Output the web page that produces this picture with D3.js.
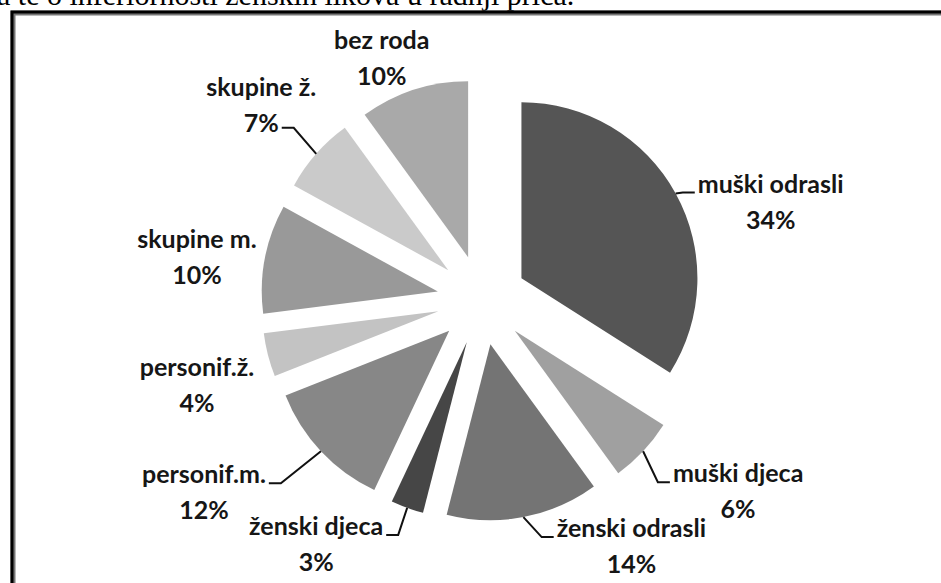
<!DOCTYPE html>
<html>
<head>
<meta charset="utf-8">
<script src="https://cdn.jsdelivr.net/npm/d3@7"></script>
<style>
    body { margin: 0; background: #fff; }
    svg { display: block; }
</style>
</head>
<body>
<div id="chart"></div>
<script>
// chart values, clockwise from 12 o'clock
var categories = ['muški odrasli', 'muški djeca', 'ženski odrasli', 'ženski djeca', 'personif.m.', 'personif.ž.', 'skupine m.', 'skupine ž.', 'bez roda'];
var shares = [34, 6, 14, 3, 12, 4, 10, 7, 10];
var shareLabels = ['34%', '6%', '14%', '3%', '12%', '4%', '10%', '7%', '10%'];
var shades = ['#555555', '#a0a0a0', '#747474', '#464646', '#878787', '#c3c3c3', '#999999', '#cacaca', '#a9a9a9'];

var width = 941,
    height = 583,
    cx = 482,
    cy = 300,
    radius = 176,
    explode = 45,
    lineGap = 36;

// where each label sits relative to the outer point of its slice (text centre, first baseline)
// side = edge of the text the leader line goes to, row = which text line it meets
var labelLayout = [
    { dx: 95, dy: -1, side: 'left', row: 0 },
    { dx: 95, dy: 31, side: 'left', row: 0 },
    { dx: 108, dy: 20, side: 'left', row: 0 },
    { dx: -91, dy: 27, side: 'right', row: 0 },
    { dx: -117, dy: 32, side: 'right', row: 0 },
    { dx: -71, dy: 21, side: null, row: 0 },
    { dx: -68, dy: -11, side: null, row: 0 },
    { dx: -55, dy: -58, side: 'right', row: 1 },
    { dx: -32, dy: -41, side: null, row: 0 }
];

var data = categories.map(function (c, i) {
    return { label: c, value: shares[i], pct: shareLabels[i], i: i };
});

var svg = d3
    .select('#chart')
    .append('svg')
    .attr('width', width)
    .attr('height', height);

// the cut-off line of body text above the figure
svg.append('text')
    .attr('x', -3)
    .attr('y', 5)
    .style('font-family', '"Liberation Serif", "Times New Roman", serif')
    .style('font-size', '30px')
    .style('fill', '#000')
    .text('a te o inferiornosti ženskih likova u radnji priča.');

// frame round the chart
svg.append('rect')
    .attr('x', 13)
    .attr('y', 13)
    .attr('width', 1000)
    .attr('height', 1000)
    .style('fill', 'none')
    .style('stroke', '#777')
    .style('stroke-width', 5);
svg.append('rect')
    .attr('x', 12)
    .attr('y', 12)
    .attr('width', 1000)
    .attr('height', 1000)
    .style('fill', 'none')
    .style('stroke', '#000')
    .style('stroke-width', 3);

var g = svg.append('g').attr('transform', 'translate(' + cx + ',' + cy + ')');

var pie = d3
    .pie()
    .sort(null)
    .value(function (d) {
        return d.value;
    });

var arc = d3.arc().innerRadius(0).outerRadius(radius);
var shift = d3.arc().innerRadius(explode).outerRadius(explode);
var rim = d3.arc().innerRadius(radius + explode).outerRadius(radius + explode);

var arcs = pie(data);

g.append('g')
    .selectAll('path')
    .data(arcs)
    .enter()
    .append('path')
    .attr('d', arc)
    .attr('transform', function (d) {
        var c = shift.centroid(d);
        return 'translate(' + c[0] + ',' + c[1] + ')';
    })
    .style('fill', function (d) {
        return shades[d.data.i];
    });

var labels = g.append('g');
var lines = g.append('g');

arcs.forEach(function (d) {
    var lay = labelLayout[d.data.i];
    var p = rim.centroid(d);
    var tx = p[0] + lay.dx,
        ty = p[1] + lay.dy;

    var t = labels
        .append('text')
        .attr('text-anchor', 'middle')
        .style('font-family', 'Lato, "Open Sans", sans-serif')
        .style('font-weight', 700)
        .style('font-size', '25px')
        .style('fill', '#161616');
    var t1 = t.append('tspan').attr('x', tx).attr('y', ty).text(d.data.label);
    var t2 = t.append('tspan').attr('x', tx).attr('y', ty + lineGap).text(d.data.pct);

    if (!lay.side) return;

    var node = lay.row === 0 ? t1.node() : t2.node();
    var half = node.getComputedTextLength() / 2;
    var ey = lay.row === 0 ? ty : ty + lineGap - 4;
    var ex = lay.side === 'left' ? tx - half - 3 : tx + half + 3;
    var bx = lay.side === 'left' ? ex - 12 : ex + 12;

    lines
        .append('path')
        .attr('d', d3.line()([p, [bx, ey], [ex, ey]]))
        .style('fill', 'none')
        .style('stroke', '#111')
        .style('stroke-width', 2);
});
</script>
</body>
</html>
